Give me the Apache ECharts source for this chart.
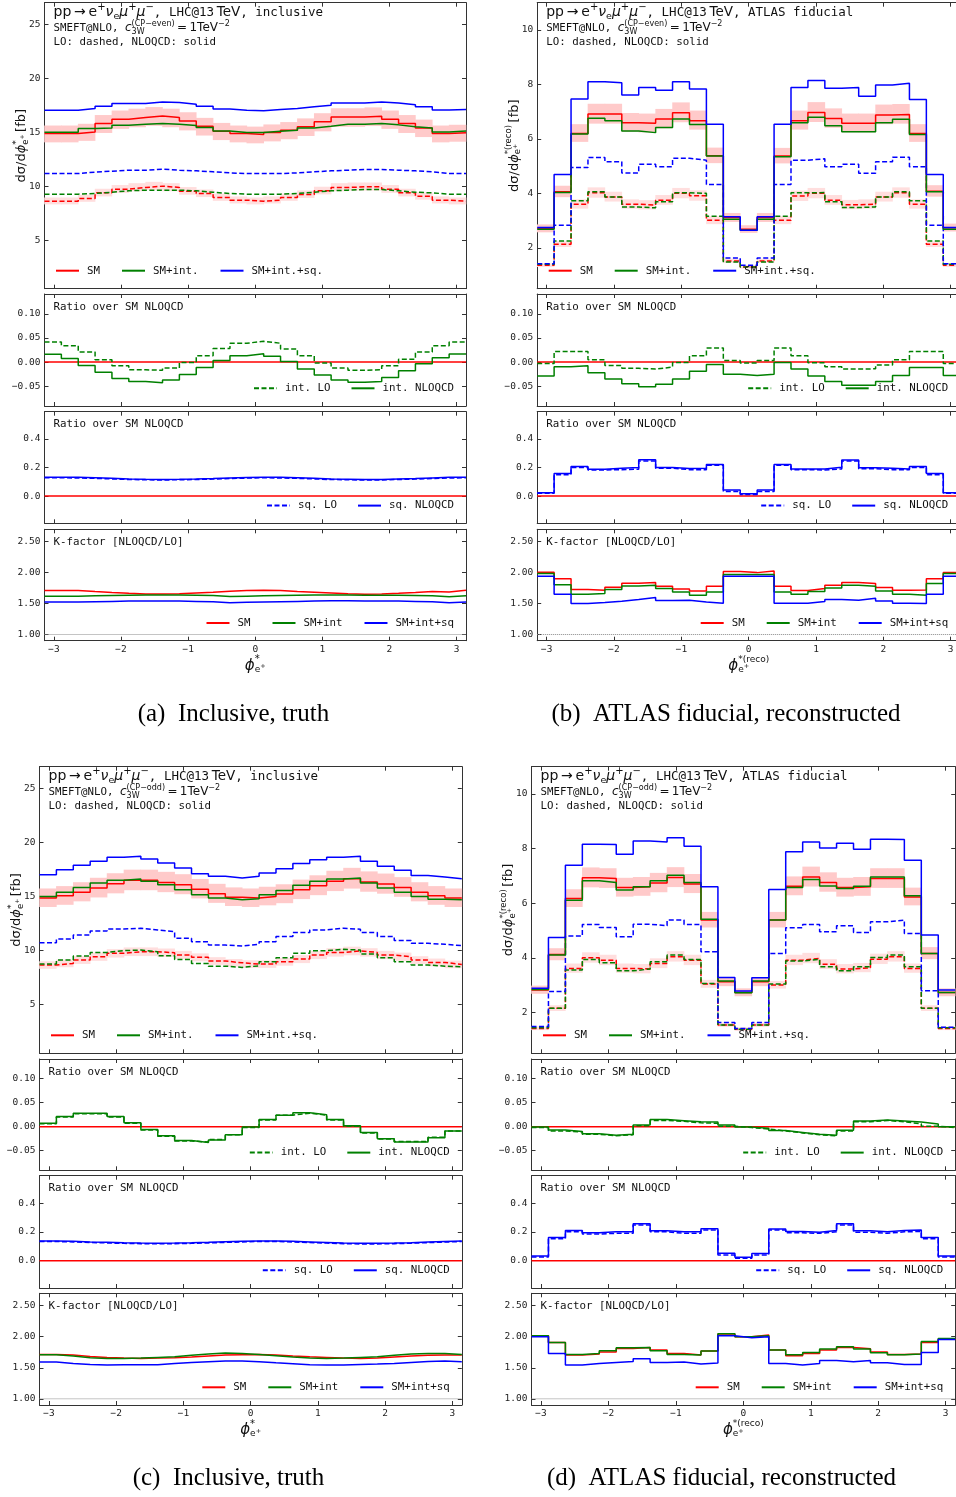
<!DOCTYPE html>
<html><head><meta charset="utf-8">
<script src="https://cdn.jsdelivr.net/npm/echarts@6/dist/echarts.min.js"></script>
<style>html,body{margin:0;padding:0;background:#fff}#c{width:956px;height:1497px}</style>
</head><body><div id="c"></div><script>
// ---------- bins & ticks ----------
const EDGES = [-3.1416,-2.8903,-2.6389,-2.3876,-2.1363,-1.8850,-1.6336,-1.3823,-1.1310,-0.8796,-0.6283,-0.3770,-0.1257,0.1257,0.3770,0.6283,0.8796,1.1310,1.3823,1.6336,1.8850,2.1363,2.3876,2.6389,2.8903,3.1416];
const XMIN = -3.1416, XMAX = 3.1416;
const XTICKS = [-3,-2,-1,0,1,2,3];
const YTICKS_INCL = [5,10,15,20,25];
const YTICKS_FID = [2,4,6,8,10];
const YTICKS_R1 = [-0.05,0,0.05,0.10];
const YTICKS_R2 = [0,0.2,0.4];
const YTICKS_K = [1,1.5,2,2.5];
const RATIO_REF = 0, K_REF = 1;

// ---------- (a) inclusive, CP-even ----------
const A_SM_NLO = [14.88,14.88,15.03,15.8,16.2,16.36,16.5,16.36,16.05,15.55,15.1,14.88,14.78,14.97,15.18,15.5,15.96,16.4,16.4,16.48,16.2,15.8,15.4,14.88,14.94];
const A_SM_NLO_UP = [15.62,15.62,15.78,16.59,17.01,17.18,17.33,17.18,16.85,16.33,15.86,15.62,15.52,15.72,15.94,16.28,16.76,17.22,17.22,17.3,17.01,16.59,16.17,15.62,15.69];
const A_SM_NLO_DN = [14.06,14.06,14.2,14.93,15.31,15.46,15.59,15.46,15.17,14.69,14.27,14.06,13.97,14.15,14.35,14.65,15.08,15.5,15.5,15.57,15.31,14.93,14.55,14.06,14.12];
const A_SMINT_NLO = [15.0,15.0,15.34,15.4,15.65,15.74,15.8,15.74,15.62,15.43,15.12,14.97,14.97,15.1,15.18,15.4,15.56,15.74,15.74,15.8,15.68,15.5,15.4,15.03,15.12];
const A_FULL_NLO = [17.04,17.04,17.2,17.4,17.65,17.65,17.8,17.75,17.6,17.4,17.15,17.04,16.98,17.1,17.2,17.35,17.5,17.7,17.7,17.8,17.7,17.55,17.35,17.05,17.1];
const A_SM_LO = [8.61,8.61,8.86,9.38,9.72,9.88,10.0,9.88,9.54,9.32,8.95,8.7,8.61,8.7,8.95,9.23,9.57,9.88,9.94,9.94,9.72,9.38,9.07,8.7,8.61];
const A_SM_LO_UP = [8.95,8.95,9.21,9.76,10.11,10.28,10.4,10.28,9.92,9.69,9.31,9.05,8.95,9.05,9.31,9.6,9.95,10.28,10.34,10.34,10.11,9.76,9.43,9.05,8.95];
const A_SM_LO_DN = [8.31,8.31,8.55,9.05,9.38,9.53,9.65,9.53,9.21,8.99,8.64,8.4,8.31,8.4,8.64,8.91,9.24,9.53,9.59,9.59,9.38,9.05,8.75,8.4,8.31];
const A_SMINT_LO = [9.26,9.26,9.32,9.44,9.57,9.63,9.63,9.63,9.57,9.44,9.32,9.26,9.26,9.26,9.32,9.44,9.57,9.63,9.69,9.69,9.57,9.44,9.38,9.26,9.26];
const A_FULL_LO = [11.17,11.17,11.3,11.39,11.48,11.48,11.57,11.48,11.42,11.33,11.23,11.17,11.17,11.17,11.23,11.33,11.42,11.48,11.54,11.54,11.48,11.42,11.33,11.17,11.17];
const A_INT_LO_R = [0.0415,0.034,0.021,0.005,-0.0076,-0.016,-0.017,-0.0125,-0.001,0.013,0.028,0.039,0.043,0.039,0.027,0.013,-0.002,-0.0125,-0.017,-0.016,-0.0076,0.006,0.021,0.034,0.0415];
const A_INT_NLO_R = [0.016,0.0076,-0.007,-0.021,-0.034,-0.040,-0.043,-0.037,-0.026,-0.011,0.0035,0.013,0.017,0.012,0.0014,-0.0145,-0.027,-0.037,-0.042,-0.040,-0.032,-0.018,-0.0035,0.009,0.0166];
const A_SQ_LO_R = [0.128,0.127,0.124,0.12,0.116,0.114,0.113,0.114,0.116,0.119,0.123,0.126,0.128,0.127,0.124,0.12,0.116,0.114,0.112,0.113,0.116,0.119,0.123,0.127,0.128];
const A_SQ_NLO_R = [0.132,0.131,0.128,0.124,0.12,0.118,0.117,0.118,0.12,0.123,0.127,0.13,0.132,0.131,0.128,0.124,0.12,0.118,0.116,0.117,0.12,0.123,0.127,0.131,0.132];
const A_K_SM = [1.71,1.71,1.694,1.68,1.667,1.656,1.656,1.66,1.672,1.683,1.70,1.71,1.715,1.71,1.694,1.683,1.672,1.66,1.65,1.656,1.667,1.68,1.694,1.688,1.715];
const A_K_SMINT = [1.62,1.62,1.625,1.63,1.635,1.64,1.64,1.64,1.635,1.63,1.615,1.62,1.625,1.63,1.635,1.64,1.64,1.64,1.635,1.635,1.635,1.63,1.625,1.61,1.625];
const A_K_FULL = [1.525,1.525,1.53,1.535,1.54,1.54,1.54,1.54,1.535,1.53,1.515,1.52,1.525,1.53,1.535,1.54,1.545,1.545,1.54,1.54,1.54,1.535,1.53,1.515,1.525];

// ---------- (b) fiducial, CP-even ----------
const B_SM_NLO = [2.71,4.06,6.2,6.91,6.91,6.59,6.57,6.73,6.96,6.67,5.38,3.11,2.68,3.11,5.37,6.67,6.97,6.75,6.57,6.57,6.88,6.9,6.2,4.08,2.74];
const B_SM_NLO_UP = [2.86,4.28,6.54,7.29,7.29,6.95,6.93,7.1,7.34,7.04,5.68,3.28,2.83,3.28,5.67,7.04,7.35,7.12,6.93,6.93,7.26,7.28,6.54,4.3,2.89];
const B_SM_NLO_DN = [2.57,3.86,5.89,6.56,6.56,6.26,6.24,6.39,6.61,6.34,5.11,2.95,2.55,2.95,5.1,6.34,6.62,6.41,6.24,6.24,6.54,6.56,5.89,3.88,2.6];
const B_SMINT_NLO = [2.68,4.03,6.18,6.76,6.67,6.29,6.23,6.42,6.73,6.53,5.37,3.05,2.65,3.05,5.34,6.59,6.79,6.48,6.26,6.26,6.59,6.72,6.16,4.06,2.68];
const B_FULL_NLO = [2.75,4.69,7.46,8.1,8.06,7.61,7.89,7.79,8.1,7.83,6.54,3.14,2.65,3.14,6.54,7.89,8.14,7.86,7.89,7.57,7.98,8.04,7.45,4.69,2.75];
const B_SM_LO = [1.36,2.13,3.6,4.02,3.87,3.6,3.57,3.75,4.0,3.91,3.01,1.52,1.30,1.52,3.01,3.9,4.0,3.75,3.58,3.6,3.87,4.02,3.6,2.13,1.36];
const B_SM_LO_UP = [1.43,2.24,3.78,4.22,4.06,3.78,3.75,3.94,4.2,4.11,3.16,1.6,1.37,1.6,3.16,4.1,4.2,3.94,3.76,3.78,4.06,4.22,3.78,2.24,1.43];
const B_SM_LO_DN = [1.3,2.03,3.44,3.84,3.7,3.44,3.41,3.58,3.82,3.73,2.87,1.45,1.24,1.45,2.87,3.72,3.82,3.58,3.42,3.44,3.7,3.84,3.44,2.03,1.3];
const B_SMINT_LO = [1.4,2.25,3.73,4.06,3.87,3.5,3.47,3.69,4.02,4.0,3.16,1.48,1.3,1.48,3.16,4.02,4.03,3.69,3.48,3.5,3.87,4.06,3.73,2.25,1.4];
const B_FULL_LO = [1.42,2.83,4.95,5.32,5.16,4.75,5.07,4.98,5.29,5.22,4.33,1.63,1.36,1.63,4.33,5.22,5.27,4.98,5.07,4.74,5.16,5.33,4.98,2.83,1.42];
const B_INT_LO_R = [-0.003,0.022,0.022,0.005,-0.007,-0.013,-0.0145,-0.0104,-0.001,0.013,0.029,0.0035,-0.002,0.003,0.029,0.013,-0.0014,-0.0097,-0.0145,-0.014,-0.006,0.005,0.022,0.022,-0.003];
const B_INT_NLO_R = [-0.029,-0.0097,-0.0076,-0.022,-0.035,-0.045,-0.051,-0.046,-0.035,-0.019,-0.005,-0.025,-0.028,-0.025,-0.001,-0.0145,-0.029,-0.04,-0.048,-0.048,-0.04,-0.028,-0.011,-0.011,-0.028];
const B_SQ_LO_R = [0.02,0.15,0.2,0.183,0.185,0.188,0.245,0.195,0.185,0.185,0.215,0.033,0.012,0.033,0.215,0.185,0.183,0.19,0.245,0.192,0.185,0.185,0.2,0.15,0.02];
const B_SQ_NLO_R = [0.024,0.158,0.207,0.188,0.195,0.2,0.254,0.2,0.193,0.195,0.221,0.042,0.016,0.042,0.221,0.19,0.19,0.202,0.252,0.198,0.195,0.19,0.207,0.158,0.024];
const B_K_SM = [2.005,1.90,1.726,1.715,1.763,1.828,1.839,1.78,1.737,1.704,1.78,2.02,2.0,2.027,1.78,1.71,1.742,1.796,1.839,1.823,1.758,1.715,1.72,1.9,2.0];
const B_K_SMINT = [1.984,1.806,1.65,1.661,1.726,1.785,1.796,1.742,1.688,1.634,1.688,1.968,1.968,1.968,1.688,1.65,1.694,1.753,1.796,1.78,1.704,1.65,1.634,1.823,1.984];
const B_K_FULL = [1.94,1.65,1.5,1.516,1.538,1.565,1.597,1.548,1.554,1.527,1.505,1.94,1.94,1.94,1.505,1.505,1.532,1.565,1.554,1.586,1.543,1.505,1.5,1.65,1.94];

// ---------- (c) inclusive, CP-odd ----------
const C_SM_NLO = [14.85,15.06,15.4,15.78,16.18,16.49,16.49,16.3,16.09,15.68,15.25,14.94,14.85,15.0,15.22,15.62,16.0,16.4,16.65,16.34,16.15,15.84,15.4,15.06,14.85];
const C_SM_NLO_UP = [15.74,15.96,16.32,16.73,17.15,17.48,17.48,17.28,17.06,16.62,16.17,15.84,15.74,15.9,16.13,16.56,16.96,17.38,17.65,17.32,17.12,16.79,16.32,15.96,15.74];
const C_SM_NLO_DN = [14.03,14.23,14.55,14.91,15.29,15.58,15.58,15.4,15.21,14.82,14.41,14.12,14.03,14.18,14.38,14.76,15.12,15.5,15.73,15.44,15.26,14.97,14.55,14.23,14.03];
const C_SMINT_NLO = [15.0,15.4,15.84,16.24,16.49,16.61,16.4,16.09,15.62,15.15,14.85,14.69,14.78,15.15,15.56,16.03,16.4,16.61,16.71,16.24,15.78,15.4,15.0,14.75,14.69];
const C_FULL_NLO = [17.0,17.47,17.88,18.25,18.62,18.72,18.47,18.1,17.63,17.1,16.86,16.7,16.86,17.17,17.57,18.04,18.4,18.62,18.72,18.25,17.79,17.42,16.95,16.8,16.65];
const C_SM_LO = [8.66,8.81,9.12,9.43,9.74,9.89,9.89,9.8,9.59,9.37,9.03,8.87,8.75,8.75,8.96,9.21,9.59,9.83,9.96,9.83,9.59,9.43,9.12,8.9,8.72];
const C_SM_LO_UP = [9.01,9.16,9.48,9.81,10.13,10.29,10.29,10.19,9.97,9.74,9.39,9.22,9.1,9.1,9.32,9.58,9.97,10.22,10.36,10.22,9.97,9.81,9.48,9.26,9.07];
const C_SM_LO_DN = [8.31,8.46,8.76,9.05,9.35,9.49,9.49,9.41,9.21,9.0,8.67,8.52,8.4,8.4,8.6,8.84,9.21,9.44,9.56,9.44,9.21,9.05,8.76,8.54,8.37];
const C_SMINT_LO = [8.75,9.12,9.49,9.83,9.99,10.05,9.89,9.52,9.18,8.81,8.56,8.44,8.59,8.96,9.34,9.74,9.99,10.11,10.05,9.68,9.34,8.96,8.66,8.56,8.5];
const C_FULL_LO = [10.73,11.07,11.44,11.81,12.0,12.06,11.91,11.75,11.13,10.82,10.51,10.42,10.58,10.82,11.29,11.66,11.91,12.06,11.97,11.66,11.29,10.92,10.67,10.58,10.45];
const C_INT_LO_R = [0.006,0.02,0.027,0.027,0.02,0.007,-0.007,-0.02,-0.03,-0.032,-0.027,-0.017,-0.002,0.014,0.024,0.028,0.024,0.014,0.001,-0.013,-0.026,-0.031,-0.031,-0.022,-0.009];
const C_INT_NLO_R = [0.007,0.021,0.028,0.028,0.021,0.008,-0.006,-0.019,-0.029,-0.033,-0.028,-0.017,-0.001,0.015,0.024,0.029,0.025,0.015,0.002,-0.012,-0.025,-0.032,-0.032,-0.023,-0.009];
const C_SQ_LO_R = [0.133,0.13,0.126,0.123,0.12,0.118,0.117,0.118,0.12,0.123,0.127,0.13,0.133,0.133,0.13,0.126,0.122,0.118,0.116,0.116,0.118,0.121,0.125,0.129,0.133];
const C_SQ_NLO_R = [0.137,0.134,0.13,0.127,0.124,0.122,0.121,0.122,0.124,0.127,0.131,0.134,0.137,0.137,0.134,0.13,0.126,0.122,0.12,0.12,0.122,0.125,0.129,0.133,0.137];
const C_K_SM = [1.715,1.704,1.683,1.667,1.656,1.65,1.656,1.66,1.672,1.688,1.704,1.71,1.715,1.704,1.688,1.677,1.667,1.656,1.65,1.656,1.672,1.688,1.7,1.704,1.704];
const C_K_SMINT = [1.71,1.688,1.66,1.65,1.65,1.656,1.667,1.677,1.7,1.72,1.737,1.731,1.715,1.694,1.672,1.656,1.65,1.656,1.667,1.677,1.7,1.72,1.731,1.731,1.715];
const C_K_FULL = [1.591,1.57,1.554,1.543,1.548,1.548,1.548,1.57,1.586,1.597,1.608,1.608,1.597,1.58,1.565,1.548,1.543,1.543,1.554,1.56,1.57,1.586,1.602,1.608,1.597];

// ---------- (d) fiducial, CP-odd ----------
const D_SM_NLO = [2.82,4.12,6.17,6.93,6.9,6.57,6.6,6.74,6.94,6.7,5.38,3.12,2.73,3.12,5.38,6.62,6.96,6.76,6.57,6.6,6.9,6.9,6.23,4.16,2.73];
const D_SM_NLO_UP = [2.98,4.35,6.51,7.31,7.28,6.93,6.96,7.11,7.32,7.07,5.68,3.29,2.88,3.29,5.68,6.98,7.34,7.13,6.93,6.96,7.28,7.28,6.57,4.39,2.88];
const D_SM_NLO_DN = [2.68,3.91,5.86,6.58,6.56,6.24,6.27,6.4,6.59,6.37,5.11,2.96,2.59,2.96,5.11,6.29,6.61,6.42,6.24,6.27,6.56,6.56,5.92,3.95,2.59];
const D_SMINT_NLO = [2.84,4.1,6.11,6.82,6.76,6.48,6.6,6.82,7.02,6.76,5.41,3.15,2.72,3.15,5.38,6.57,6.87,6.63,6.54,6.62,6.96,6.96,6.27,4.16,2.73];
const D_FULL_NLO = [2.88,4.74,7.39,8.16,8.15,7.79,8.28,8.24,8.4,8.09,6.6,3.28,2.78,3.27,6.5,7.88,8.24,8.02,8.2,7.98,8.34,8.33,7.57,4.83,2.82];
const D_SM_LO = [1.41,2.15,3.61,4.0,3.91,3.61,3.59,3.79,4.04,3.91,3.04,1.54,1.38,1.54,3.0,3.91,3.98,3.76,3.59,3.63,3.95,4.04,3.61,2.15,1.41];
const D_SM_LO_UP = [1.48,2.26,3.79,4.2,4.11,3.79,3.77,3.98,4.24,4.11,3.19,1.62,1.45,1.62,3.15,4.11,4.18,3.95,3.77,3.81,4.15,4.24,3.79,2.26,1.48];
const D_SM_LO_DN = [1.35,2.05,3.45,3.82,3.73,3.45,3.43,3.62,3.86,3.73,2.9,1.47,1.32,1.47,2.87,3.73,3.8,3.59,3.43,3.47,3.77,3.86,3.45,2.05,1.35];
const D_SMINT_LO = [1.44,2.15,3.55,3.94,3.82,3.52,3.59,3.85,4.1,3.94,3.06,1.54,1.38,1.54,3.04,3.88,3.94,3.67,3.52,3.67,4.01,4.1,3.67,2.15,1.44];
const D_FULL_LO = [1.48,2.76,4.8,5.22,5.11,4.77,5.23,5.17,5.38,5.22,4.22,1.63,1.41,1.63,4.16,5.1,5.22,4.95,5.17,4.93,5.32,5.38,4.89,2.79,1.45];
const D_INT_LO_R = [-0.002,-0.009,-0.011,-0.016,-0.019,-0.017,0.002,0.013,0.011,0.008,0.007,0.001,-0.002,-0.005,-0.009,-0.013,-0.017,-0.019,-0.009,0.01,0.013,0.01,0.006,0.001,-0.002];
const D_INT_NLO_R = [-0.001,-0.007,-0.01,-0.015,-0.018,-0.016,0.0035,0.015,0.0125,0.01,0.0097,0.0035,-0.001,-0.0035,-0.008,-0.012,-0.016,-0.018,-0.0076,0.012,0.014,0.012,0.0097,0.0056,0.0];
const D_SQ_LO_R = [0.025,0.152,0.2,0.185,0.19,0.19,0.247,0.2,0.19,0.19,0.213,0.04,0.017,0.04,0.212,0.193,0.19,0.2,0.247,0.198,0.19,0.2,0.203,0.152,0.025];
const D_SQ_NLO_R = [0.033,0.16,0.209,0.193,0.2,0.2,0.256,0.207,0.2,0.2,0.221,0.051,0.023,0.049,0.219,0.202,0.198,0.209,0.256,0.207,0.2,0.209,0.212,0.16,0.033];
const D_K_SM = [2.016,1.909,1.704,1.72,1.753,1.812,1.828,1.785,1.731,1.704,1.769,2.043,2.0,2.027,1.785,1.694,1.731,1.785,1.828,1.806,1.753,1.715,1.72,1.909,1.962];
const D_K_SMINT = [2.016,1.909,1.715,1.731,1.774,1.823,1.828,1.774,1.715,1.704,1.769,2.048,2.0,2.016,1.785,1.709,1.747,1.801,1.839,1.801,1.742,1.709,1.72,1.925,1.973];
const D_K_FULL = [2.0,1.731,1.543,1.57,1.586,1.602,1.645,1.586,1.591,1.56,1.575,2.016,1.984,2.0,1.57,1.543,1.57,1.618,1.597,1.618,1.58,1.554,1.554,1.747,1.957];

// ---------- tables built from the arrays ----------
const DATA = {
  a:{smNlo:A_SM_NLO,smNloUp:A_SM_NLO_UP,smNloDn:A_SM_NLO_DN,smintNlo:A_SMINT_NLO,fullNlo:A_FULL_NLO,smLo:A_SM_LO,smLoUp:A_SM_LO_UP,smLoDn:A_SM_LO_DN,smintLo:A_SMINT_LO,fullLo:A_FULL_LO,intLo:A_INT_LO_R,intNlo:A_INT_NLO_R,sqLo:A_SQ_LO_R,sqNlo:A_SQ_NLO_R,kSm:A_K_SM,kSmint:A_K_SMINT,kFull:A_K_FULL},
  b:{smNlo:B_SM_NLO,smNloUp:B_SM_NLO_UP,smNloDn:B_SM_NLO_DN,smintNlo:B_SMINT_NLO,fullNlo:B_FULL_NLO,smLo:B_SM_LO,smLoUp:B_SM_LO_UP,smLoDn:B_SM_LO_DN,smintLo:B_SMINT_LO,fullLo:B_FULL_LO,intLo:B_INT_LO_R,intNlo:B_INT_NLO_R,sqLo:B_SQ_LO_R,sqNlo:B_SQ_NLO_R,kSm:B_K_SM,kSmint:B_K_SMINT,kFull:B_K_FULL},
  c:{smNlo:C_SM_NLO,smNloUp:C_SM_NLO_UP,smNloDn:C_SM_NLO_DN,smintNlo:C_SMINT_NLO,fullNlo:C_FULL_NLO,smLo:C_SM_LO,smLoUp:C_SM_LO_UP,smLoDn:C_SM_LO_DN,smintLo:C_SMINT_LO,fullLo:C_FULL_LO,intLo:C_INT_LO_R,intNlo:C_INT_NLO_R,sqLo:C_SQ_LO_R,sqNlo:C_SQ_NLO_R,kSm:C_K_SM,kSmint:C_K_SMINT,kFull:C_K_FULL},
  d:{smNlo:D_SM_NLO,smNloUp:D_SM_NLO_UP,smNloDn:D_SM_NLO_DN,smintNlo:D_SMINT_NLO,fullNlo:D_FULL_NLO,smLo:D_SM_LO,smLoUp:D_SM_LO_UP,smLoDn:D_SM_LO_DN,smintLo:D_SMINT_LO,fullLo:D_FULL_LO,intLo:D_INT_LO_R,intNlo:D_INT_NLO_R,sqLo:D_SQ_LO_R,sqNlo:D_SQ_NLO_R,kSm:D_K_SM,kSmint:D_K_SMINT,kFull:D_K_FULL}
};

// ---------- layout & style ----------
const SANS='"DejaVu Sans"', MONO='"DejaVu Sans Mono"', SERIF='"Liberation Serif"';
const RED='#ff0000', GREEN='#008000', BLUE='#0000ff', FRAME='#333';
const DASH=[5,2.5];
const BAND_NLO='#ffcaca', BAND_LO='#ffdede';
const ROWS_TOP=[[2.7,286],[294,112],[411.7,111.6],[529.3,111.4]];
const ROWS_BOT=[[766.7,286.6],[1059,111.3],[1175.7,112.3],[1293.3,111.7]];
const LAYOUT={
  a:{left:44.5,width:421.5,rows:ROWS_TOP,kind:'incl',region:'inclusive',cp:'even',reco:false,cap:'(a)',capT:'Inclusive, truth',capX:233.5,capY:714},
  b:{left:537.2,width:423,rows:ROWS_TOP,kind:'fid',region:'ATLAS fiducial',cp:'even',reco:true,cap:'(b)',capT:'ATLAS fiducial, reconstructed',capX:726,capY:714},
  c:{left:39.5,width:422.3,rows:ROWS_BOT,kind:'incl',region:'inclusive',cp:'odd',reco:false,cap:'(c)',capT:'Inclusive, truth',capX:228.5,capY:1478},
  d:{left:531.5,width:423.7,rows:ROWS_BOT,kind:'fid',region:'ATLAS fiducial',cp:'odd',reco:true,cap:'(d)',capT:'ATLAS fiducial, reconstructed',capX:721.5,capY:1478}
};
const RANGES={incl:[0.5,27],fid:[0.5,11],r1:[-0.091,0.141],r2:[-0.19,0.59],k:[0.9,2.7]};
const YT={incl:YTICKS_INCL,fid:YTICKS_FID,r1:YTICKS_R1,r2:YTICKS_R2,k:YTICKS_K};
const minus=s=>s.replace('-','\u2212');
const FMT={incl:v=>String(Math.round(v)),fid:v=>String(Math.round(v)),r1:v=>minus(v.toFixed(2)),r2:v=>minus(v.toFixed(1)),k:v=>v.toFixed(2),x:v=>minus(String(Math.round(v)))};

const mctx=document.createElement('canvas').getContext('2d');
function tw(t,font){mctx.font=font;return mctx.measureText(t).width;}
function mt(cx,cy,parts,opt){
  opt=opt||{};const rot=opt.rot||0, align=opt.align||'left', color=opt.color||'#111';
  let cursor=0,lastStart=0,lastEnd=0;const kids=[];
  parts.forEach(p=>{
    const font=(p.it?'italic ':'')+p.s+'px '+(p.f||SANS);
    const w=tw(p.t,font);
    const start=p.stack?lastStart:(p.after?lastEnd:cursor);
    kids.push({type:'text',x:start,y:p.dy||0,silent:true,style:{text:p.t,font:font,fill:color,align:'left',verticalAlign:'middle',textAlign:'left',textVerticalAlign:'middle'}});
    lastStart=start;lastEnd=start+w;cursor=Math.max(cursor,lastEnd);
  });
  const off=align==='center'?-cursor/2:(align==='right'?-cursor:0);
  kids.forEach(k=>{k.x+=off;});
  return {type:'group',x:cx,y:cy,rotation:rot,silent:true,z:100,children:kids};
}

const grids=[],xAxes=[],yAxes=[],series=[],legends=[],graphics=[];
function addGrid(q,r,kind,showX){
  const L=LAYOUT[q];const top=L.rows[r][0],h=L.rows[r][1];
  const gi=grids.length;
  grids.push({left:L.left,top:top,width:L.width,height:h,containLabel:false,outerBoundsMode:'none'});
  const axLine={show:true,onZero:false,lineStyle:{color:FRAME,width:1}};
  const tickBase={show:true,inside:true,length:4,lineStyle:{color:FRAME,width:1}};
  const lab={fontFamily:MONO,fontSize:9.5,color:'#222'};
  xAxes.push({type:'value',gridIndex:gi,position:'bottom',min:XMIN,max:XMAX,axisLine:axLine,axisTick:Object.assign({customValues:XTICKS},tickBase),axisLabel:Object.assign({show:showX,customValues:XTICKS,formatter:FMT.x,margin:4},lab),splitLine:{show:false}});
  xAxes.push({type:'value',gridIndex:gi,position:'top',min:XMIN,max:XMAX,axisLine:axLine,axisTick:Object.assign({customValues:XTICKS},tickBase),axisLabel:{show:false},splitLine:{show:false}});
  yAxes.push({type:'value',gridIndex:gi,position:'left',min:RANGES[kind][0],max:RANGES[kind][1],axisLine:axLine,axisTick:Object.assign({customValues:YT[kind]},tickBase),axisLabel:Object.assign({customValues:YT[kind],formatter:FMT[kind],margin:4},lab),splitLine:{show:false}});
  yAxes.push({type:'value',gridIndex:gi,position:'right',min:RANGES[kind][0],max:RANGES[kind][1],axisLine:axLine,axisTick:Object.assign({customValues:YT[kind]},tickBase),axisLabel:{show:false},splitLine:{show:false}});
  return gi;
}
function stepData(v){const d=v.map((y,i)=>[EDGES[i],y]);d.push([EDGES[EDGES.length-1],v[v.length-1]]);return d;}
function line(gi,name,vals,color,dashed,z){
  series.push({type:'line',name:name,xAxisIndex:2*gi,yAxisIndex:2*gi,data:stepData(vals),step:'end',symbol:'none',showSymbol:false,silent:true,animation:false,z:z||3,
    lineStyle:{color:color,width:1.5,type:dashed?DASH:'solid'},itemStyle:{color:color}});
}
function refLine(gi,val,color,type,width){
  series.push({type:'line',xAxisIndex:2*gi,yAxisIndex:2*gi,data:[[XMIN,val],[XMAX,val]],symbol:'none',silent:true,animation:false,z:2,lineStyle:{color:color,width:width,type:type}});
}
function band(gi,lo,hi,fill){
  series.push({type:'custom',xAxisIndex:2*gi,yAxisIndex:2*gi,silent:true,animation:false,z:1,
    data:lo.map((l,i)=>[EDGES[i],EDGES[i+1],l,hi[i]]),encode:{x:[0,1],y:[2,3]},
    renderItem:function(p,api){const p0=api.coord([api.value(0),api.value(3)]);const p1=api.coord([api.value(1),api.value(2)]);
      return {type:'rect',shape:{x:p0[0]-0.3,y:p0[1],width:p1[0]-p0[0]+0.6,height:p1[1]-p0[1]},style:{fill:fill}};}});
}
function legend(pos,names,gap){
  legends.push(Object.assign({show:true,orient:'horizontal',padding:0,itemGap:gap,itemWidth:23,itemHeight:12,selectedMode:false,data:names,
    itemStyle:{opacity:0,borderWidth:0},
    formatter:n=>n.split('|')[2],textStyle:{fontFamily:MONO,fontSize:10.8,color:'#111',padding:[0,0,0,3]}},pos));
}

['a','b','c','d'].forEach(q=>{
  const L=LAYOUT[q],D=DATA[q];
  const right=L.left+L.width;
  const rEdge=956-(right-12);
  // main
  let g=addGrid(q,0,L.kind,false);
  band(g,D.smNloDn,D.smNloUp,BAND_NLO);
  band(g,D.smLoDn,D.smLoUp,BAND_LO);
  line(g,q+'|lo|SM',D.smLo,RED,true);
  line(g,q+'|lo|SM+int.',D.smintLo,GREEN,true);
  line(g,q+'|lo|SM+int.+sq.',D.fullLo,BLUE,true);
  line(g,q+'|main|SM',D.smNlo,RED,false,4);
  line(g,q+'|main|SM+int.',D.smintNlo,GREEN,false,4);
  line(g,q+'|main|SM+int.+sq.',D.fullNlo,BLUE,false,4);
  const mTop=L.rows[0][0],mBot=L.rows[0][0]+L.rows[0][1];
  legend({left:L.left+10.5,top:mBot-17-6.5},[q+'|main|SM',q+'|main|SM+int.',q+'|main|SM+int.+sq.'],21);
  // ratio int
  g=addGrid(q,1,'r1',false);
  refLine(g,RATIO_REF,RED,'solid',1.5);
  line(g,q+'|r1|int. LO',D.intLo,GREEN,true);
  line(g,q+'|r1|int. NLOQCD',D.intNlo,GREEN,false);
  let b=L.rows[1][0]+L.rows[1][1];
  legend({right:rEdge,top:b-16.7-6.5},[q+'|r1|int. LO',q+'|r1|int. NLOQCD'],20);
  // ratio sq
  g=addGrid(q,2,'r2',false);
  refLine(g,RATIO_REF,RED,'solid',1.5);
  line(g,q+'|r2|sq. LO',D.sqLo,BLUE,true);
  line(g,q+'|r2|sq. NLOQCD',D.sqNlo,BLUE,false);
  b=L.rows[2][0]+L.rows[2][1];
  legend({right:rEdge,top:b-16.7-6.5},[q+'|r2|sq. LO',q+'|r2|sq. NLOQCD'],20);
  // K factor
  g=addGrid(q,3,'k',true);
  refLine(g,K_REF,'#888','dotted',1);
  line(g,q+'|k|SM',D.kSm,RED,false);
  line(g,q+'|k|SM+int',D.kSmint,GREEN,false);
  line(g,q+'|k|SM+int+sq',D.kFull,BLUE,false);
  b=L.rows[3][0]+L.rows[3][1];
  legend({right:rEdge,top:b-16.7-6.5},[q+'|k|SM',q+'|k|SM+int',q+'|k|SM+int+sq'],21);

  // texts
  const tx=L.left+9;
  graphics.push(mt(tx,mTop+10,[
    {t:'pp',s:14},{t:'\u2009\u2192\u2009',s:14},{t:'e',s:14},{t:'+',s:10,dy:-5.5},
    {t:'\u03bd',s:14,it:true},{t:'e',s:9.5,dy:3.5},{t:'\u03bc',s:14,it:true},{t:'+',s:10,dy:-5.5},
    {t:'\u03bc',s:14,it:true},{t:'\u2212',s:10,dy:-5.5},
    {t:', LHC@13',s:12.5,f:MONO},{t:'\u2009TeV',s:13.5},{t:', '+L.region,s:12.5,f:MONO}]));
  graphics.push(mt(tx,mTop+25.6,[
    {t:'SMEFT@NLO, ',s:10.8,f:MONO},{t:'c',s:12,it:true},
    {t:'(CP\u2212'+L.cp+')',s:8,dy:-4.5},{t:'3W',s:8,dy:3.5,stack:true},
    {t:'\u2009=\u20091TeV',s:12},{t:'\u22122',s:8,dy:-4.5}]));
  graphics.push(mt(tx,mTop+39.8,[{t:'LO: dashed, NLOQCD: solid',s:10.8,f:MONO}]));
  graphics.push(mt(tx,L.rows[1][0]+12.7,[{t:'Ratio over SM NLOQCD',s:10.8,f:MONO}]));
  graphics.push(mt(tx,L.rows[2][0]+12.7,[{t:'Ratio over SM NLOQCD',s:10.8,f:MONO}]));
  graphics.push(mt(tx,L.rows[3][0]+12.7,[{t:'K-factor [NLOQCD/LO]',s:10.8,f:MONO}]));
  const sup=L.reco?'*(reco)':'*';
  graphics.push(mt(L.left-23,(mTop+mBot)/2,[
    {t:'d\u03c3/d',s:13},{t:'\u03d5',s:13,it:true},{t:sup,s:L.reco?8.5:9,dy:-5},
    {t:'e',s:8.5,dy:4,stack:true},{t:'+',s:6,dy:1,after:true},{t:'\u2009[fb]',s:13}],{rot:Math.PI/2,align:'center'}));
  graphics.push(mt(L.left+L.width/2,b+25,[
    {t:'\u03d5',s:15,it:true},{t:sup,s:L.reco?9:10,dy:-6},
    {t:'e',s:9,dy:4,stack:true},{t:'+',s:6.5,dy:1,after:true}],{align:'center'}));
  graphics.push(mt(L.capX,L.capY,[{t:L.cap,s:25,f:SERIF},{t:'\u2002'+L.capT,s:25,f:SERIF}],{align:'center',color:'#000'}));
});

const chart=echarts.init(document.getElementById('c'),null,{renderer:'canvas',width:956,height:1497});
chart.setOption({
  animation:false,
  backgroundColor:'#ffffff',
  textStyle:{fontFamily:MONO},
  grid:grids,xAxis:xAxes,yAxis:yAxes,series:series,legend:legends,
  graphic:{elements:graphics}
});
</script></body></html>
